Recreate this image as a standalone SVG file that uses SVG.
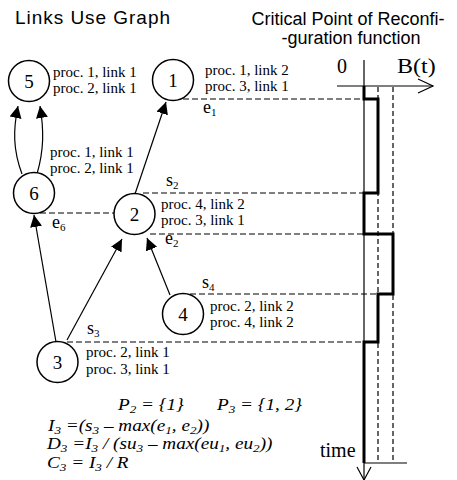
<svg xmlns="http://www.w3.org/2000/svg" width="457" height="480" viewBox="0 0 457 480">
  <style>
    .title { font-family: "Liberation Sans", Arial, sans-serif; fill: #000; }
    .lbl { font-family: "Liberation Serif", "Times New Roman", serif; font-size: 15px; fill: #000; }
    .mk { font-family: "Liberation Serif", "Times New Roman", serif; font-size: 18px; fill: #000; }
    .num { font-family: "Liberation Serif", "Times New Roman", serif; font-size: 19px; fill: #000; text-anchor: middle; }
    .ax { font-family: "Liberation Serif", "Times New Roman", serif; font-size: 20px; fill: #000; }
    .f { font-family: "Liberation Serif", "Times New Roman", serif; font-size: 16px; font-style: italic; fill: #000; }
    .sb { font-size: 11px; }
    .node circle { fill: #fff; stroke: #000; stroke-width: 1.5; }
    .edge { fill: none; stroke: #000; stroke-width: 1.2; marker-end: url(#head); }
    .dash { fill: none; stroke: #000; stroke-width: 1.2; stroke-dasharray: 6 3; }
    .vdash { fill: none; stroke: #000; stroke-width: 1.2; stroke-dasharray: 5 3; }
    .thin { fill: none; stroke: #000; stroke-width: 1.2; }
    .thick { fill: none; stroke: #000; stroke-width: 3; stroke-linejoin: miter; }
  </style>
  <defs>
    <marker id="head" markerUnits="userSpaceOnUse" markerWidth="13" markerHeight="12" refX="12" refY="6" orient="auto">
      <path d="M0,0 L12,6 L0,12 z" fill="#000"/>
    </marker>
  </defs>

  <!-- headings -->
  <text class="title" x="15" y="24" style="font-size:19px" textLength="155">Links Use Graph</text>
  <text class="title" x="348" y="25" text-anchor="middle" style="font-size:18px">Critical Point of Reconfi-</text>
  <text class="title" x="351" y="44" text-anchor="middle" style="font-size:18px">-guration function</text>

  <!-- connectors between nodes -->
  <g id="connectors">
    <path class="edge" d="M22,174 C13,150 13,130 18,106"/>
    <path class="edge" d="M37,174 C44,150 44,130 40,106"/>
    <path class="edge" d="M135,194 L166,102"/>
    <path class="edge" d="M56,342 L34,215"/>
    <path class="edge" d="M67,340 L122,239"/>
    <path class="edge" d="M170,295 L147,238"/>
  </g>

  <!-- start / end marks projected onto the time axis -->
  <g id="marks">
    <path class="dash" d="M183,99 H364"/>
    <path class="dash" d="M143,193 H364"/>
    <path class="dash" d="M40,213 H114"/>
    <path class="dash" d="M150,234 H364"/>
    <path class="dash" d="M190,294 H378"/>
    <path class="dash" d="M67,342 H364"/>
    <text class="mk" x="203" y="113">e<tspan class="sb" dy="3">1</tspan></text>
    <text class="mk" x="166" y="186">s<tspan class="sb" dy="3">2</tspan></text>
    <text class="mk" x="52" y="228">e<tspan class="sb" dy="3">6</tspan></text>
    <text class="mk" x="165" y="244">e<tspan class="sb" dy="3">2</tspan></text>
    <text class="mk" x="202" y="288">s<tspan class="sb" dy="3">4</tspan></text>
    <text class="mk" x="87" y="334">s<tspan class="sb" dy="3">3</tspan></text>
  </g>

  <g id="node-5" class="node">
    <circle cx="29" cy="81" r="20.5"/>
    <text class="num" x="29" y="87.5">5</text>
    <text class="lbl" x="53" y="77">proc. 1, link 1</text>
    <text class="lbl" x="53" y="93">proc. 2, link 1</text>
  </g>
  <g id="node-1" class="node">
    <circle cx="173" cy="80" r="20.5"/>
    <text class="num" x="173" y="86.5">1</text>
    <text class="lbl" x="205" y="75">proc. 1, link 2</text>
    <text class="lbl" x="205" y="91">proc. 3, link 1</text>
  </g>
  <g id="node-6" class="node">
    <circle cx="34" cy="193" r="20.5"/>
    <text class="num" x="34" y="199.5">6</text>
    <text class="lbl" x="50" y="157">proc. 1, link 1</text>
    <text class="lbl" x="50" y="173">proc. 2, link 1</text>
  </g>
  <g id="node-2" class="node">
    <circle cx="134.5" cy="214" r="20.5"/>
    <text class="num" x="134.5" y="220.5">2</text>
    <text class="lbl" x="161" y="209">proc. 4, link 2</text>
    <text class="lbl" x="161" y="225">proc. 3, link 1</text>
  </g>
  <g id="node-4" class="node">
    <circle cx="183" cy="314" r="20.5"/>
    <text class="num" x="183" y="320.5">4</text>
    <text class="lbl" x="210" y="311">proc. 2, link 2</text>
    <text class="lbl" x="210" y="327">proc. 4, link 2</text>
  </g>
  <g id="node-3" class="node">
    <circle cx="57.5" cy="362" r="20.5"/>
    <text class="num" x="57.5" y="368.5">3</text>
    <text class="lbl" x="86" y="357">proc. 2, link 1</text>
    <text class="lbl" x="86" y="374">proc. 3, link 1</text>
  </g>

  <!-- B(t) against time -->
  <g id="time-axis">
    <path class="thin" d="M364,60 V480"/>
    <path class="thin" d="M357,467 L364,480 L371,467"/>
    <path class="thin" d="M337,86 H433"/>
    <path class="thin" d="M418,79 L433,86 L418,93"/>
    <path class="thin" d="M364,463 H407"/>
    <path class="vdash" d="M378,87 V463"/>
    <path class="vdash" d="M393,87 V463"/>
    <path class="thick" d="M364,86 V99 H378 V193 H364 V234 H393 V294 H378 V342 H364 V463"/>
    <text class="ax" x="337" y="73">0</text>
    <text class="ax" transform="translate(397,73) scale(1.2,1)">B(t)</text>
    <text class="ax" x="320" y="457">time</text>
  </g>

  <!-- sets and formulas, set slightly wide -->
  <g id="formulas">
    <text class="f" transform="translate(118,410) scale(1.2,1)">P<tspan class="sb" dy="3">2</tspan><tspan dy="-3"> = {1}</tspan></text>
    <text class="f" transform="translate(217,410) scale(1.2,1)">P<tspan class="sb" dy="3">3</tspan><tspan dy="-3"> = {1, 2}</tspan></text>
    <text class="f" transform="translate(48,431) scale(1.2,1)">I<tspan class="sb" dy="3">3</tspan><tspan dy="-3"> =(s</tspan><tspan class="sb" dy="3">3</tspan><tspan dy="-3"> – max(e</tspan><tspan class="sb" dy="3">1</tspan><tspan dy="-3">, e</tspan><tspan class="sb" dy="3">2</tspan><tspan dy="-3">))</tspan></text>
    <text class="f" transform="translate(47,449) scale(1.2,1)">D<tspan class="sb" dy="3">3</tspan><tspan dy="-3"> =I</tspan><tspan class="sb" dy="3">3</tspan><tspan dy="-3"> / (su</tspan><tspan class="sb" dy="3">3</tspan><tspan dy="-3"> – max(eu</tspan><tspan class="sb" dy="3">1</tspan><tspan dy="-3">, eu</tspan><tspan class="sb" dy="3">2</tspan><tspan dy="-3">))</tspan></text>
    <text class="f" transform="translate(47,468) scale(1.2,1)">C<tspan class="sb" dy="3">3</tspan><tspan dy="-3"> = I</tspan><tspan class="sb" dy="3">3</tspan><tspan dy="-3"> / R</tspan></text>
  </g>
</svg>
